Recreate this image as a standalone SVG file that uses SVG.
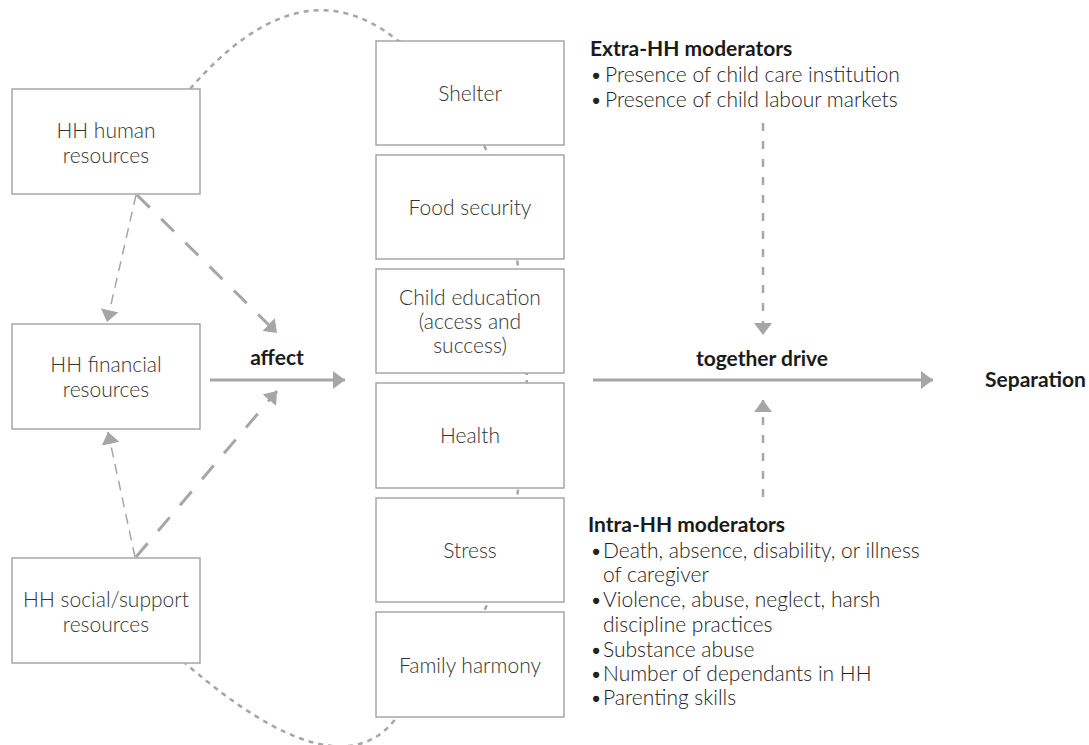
<svg xmlns="http://www.w3.org/2000/svg" width="1089" height="745" viewBox="0 0 1089 745">
  <style>
    .box { fill: #ffffff; stroke: #a6a6a6; stroke-width: 1.5; }
    .lbl { font-family: Lato, "Open Sans", "Liberation Sans", sans-serif; font-size: 21px; font-weight: 300; fill: #333333; text-anchor: middle; }
    .txt { font-family: Lato, "Open Sans", "Liberation Sans", sans-serif; font-size: 21px; font-weight: 300; fill: #222222; }
    .hd { font-family: Lato, "Open Sans", "Liberation Sans", sans-serif; font-size: 21px; font-weight: 700; fill: #1a1a1a; }
    .loop { fill: none; stroke: #a6a6a6; stroke-width: 2.5; stroke-dasharray: 5 5; }
    .solid { fill: none; stroke: #a6a6a6; stroke-width: 3; }
    .thin { fill: none; stroke: #a6a6a6; stroke-width: 1.5; stroke-dasharray: 10 7; }
    .thick { fill: none; stroke: #a6a6a6; stroke-width: 3; stroke-dasharray: 18 16; }
    .vert { fill: none; stroke: #a6a6a6; stroke-width: 2.5; stroke-dasharray: 8 10; }
  </style>
  <defs>
    <marker id="head" viewBox="0 0 12 18" refX="12" refY="9" markerWidth="12" markerHeight="18" markerUnits="userSpaceOnUse" orient="auto">
      <path d="M0,0 L12,9 L0,18 z" fill="#a6a6a6"/>
    </marker>
  </defs>

  <rect width="1089" height="745" fill="#ffffff"/>

  <!-- feedback loop running behind the outcome column -->
  <g id="loop">
    <path class="loop" d="M190,89 Q300,-38 397,40 C570,130 570,626 397,717 Q339,796 185,663"/>
  </g>

  <!-- household resources -->
  <g id="hh-human">
    <rect class="box" x="12" y="89" width="188" height="105"/>
    <text class="lbl" x="106" y="138">HH human</text>
    <text class="lbl" x="106" y="163">resources</text>
  </g>
  <g id="hh-financial">
    <rect class="box" x="12" y="324" width="188" height="105"/>
    <text class="lbl" x="106" y="372">HH financial</text>
    <text class="lbl" x="106" y="397">resources</text>
  </g>
  <g id="hh-social">
    <rect class="box" x="12" y="558" width="188" height="105"/>
    <text class="lbl" x="106" y="607">HH social/support</text>
    <text class="lbl" x="106" y="632">resources</text>
  </g>

  <!-- outcome column -->
  <g id="shelter">
    <rect class="box" x="376" y="41" width="188" height="104"/>
    <text class="lbl" x="470" y="101">Shelter</text>
  </g>
  <g id="food-security">
    <rect class="box" x="376" y="155" width="188" height="104"/>
    <text class="lbl" x="470" y="215">Food security</text>
  </g>
  <g id="child-education">
    <rect class="box" x="376" y="269" width="188" height="104"/>
    <text class="lbl" x="470" y="305">Child education</text>
    <text class="lbl" x="470" y="329">(access and</text>
    <text class="lbl" x="470" y="353">success)</text>
  </g>
  <g id="health">
    <rect class="box" x="376" y="383" width="188" height="105"/>
    <text class="lbl" x="470" y="443">Health</text>
  </g>
  <g id="stress">
    <rect class="box" x="376" y="498" width="188" height="104"/>
    <text class="lbl" x="470" y="558">Stress</text>
  </g>
  <g id="family-harmony">
    <rect class="box" x="376" y="612" width="188" height="105"/>
    <text class="lbl" x="470" y="673">Family harmony</text>
  </g>

  <!-- connectors -->
  <g id="connectors">
    <path class="thin" d="M136,195 L107,322" marker-end="url(#head)"/>
    <path class="thin" d="M135,557 L108,432" marker-end="url(#head)"/>
    <path class="thick" d="M137,195 L277,333" marker-end="url(#head)"/>
    <path class="thick" d="M136,557 L277,391" marker-end="url(#head)"/>
    <path class="solid" d="M210,380 L345,380" marker-end="url(#head)"/>
    <path class="solid" d="M593,380 L933,380" marker-end="url(#head)"/>
    <path class="vert" d="M763,123 L763,335" marker-end="url(#head)"/>
    <path class="vert" d="M763,497 L763,400" marker-end="url(#head)"/>
  </g>

  <g id="labels">
    <text class="hd" x="277" y="365" text-anchor="middle">affect</text>
    <text class="hd" x="762" y="366" text-anchor="middle">together drive</text>
  </g>

  <g id="separation">
    <text class="hd" x="985" y="387">Separation</text>
  </g>

  <g id="extra-moderators">
    <text class="hd" x="590" y="56">Extra-HH moderators</text>
    <text class="txt" x="590" y="82">•</text>
    <text class="txt" x="605" y="82">Presence of child care institution</text>
    <text class="txt" x="590" y="107">•</text>
    <text class="txt" x="605" y="107">Presence of child labour markets</text>
  </g>

  <g id="intra-moderators">
    <text class="hd" x="588" y="532">Intra-HH moderators</text>
    <text class="txt" x="590" y="558">•</text>
    <text class="txt" x="603" y="558">Death, absence, disability, or illness</text>
    <text class="txt" x="603" y="582">of caregiver</text>
    <text class="txt" x="590" y="607">•</text>
    <text class="txt" x="603" y="607">Violence, abuse, neglect, harsh</text>
    <text class="txt" x="603" y="632">discipline practices</text>
    <text class="txt" x="590" y="657">•</text>
    <text class="txt" x="603" y="657">Substance abuse</text>
    <text class="txt" x="590" y="681">•</text>
    <text class="txt" x="603" y="681">Number of dependants in HH</text>
    <text class="txt" x="590" y="705">•</text>
    <text class="txt" x="603" y="705">Parenting skills</text>
  </g>
</svg>
